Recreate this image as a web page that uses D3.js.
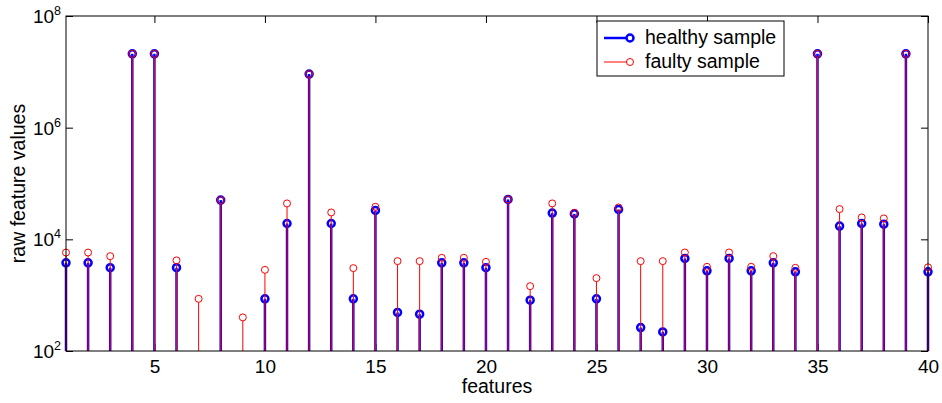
<!DOCTYPE html>
<html lang="en">
<head>
<meta charset="UTF-8"/>
<title>Raw feature values</title>
<script src="https://d3js.org/d3.v7.min.js"></script>
<style>
	body { margin: 0; background: #fff; }
	text { font-family: "Liberation Sans", Arial, sans-serif; fill: #000; }
</style>
</head>
<body>
<script>
	//chart size and plot box
	var w = 942;
	var h = 403;
	var boxL = 66, boxR = 928, boxT = 16, boxB = 351;

	//feature numbers
	var features = d3.range(1, 41);

	//healthy sample values (null = not shown on the log axis)
	var healthy = [3800, 3800, 3100, 2.1e7, 2.1e7, 3100, null, 50500, null, 860,
		19200, 9.1e6, 19200, 860, 32900, 490, 457, 3800, 3800, 3100,
		51900, 813, 29500, 28600, 860, 34300, 263, 220, 4540, 2730,
		4540, 2730, 3800, 2620, 2.1e7, 17300, 19200, 18700, 2.1e7, 2620];

	//faulty sample values
	var faulty = [5800, 5800, 5000, 2.1e7, 2.1e7, 4200, 860, 50500, 400, 2840,
		44000, 9.1e6, 30300, 3050, 38300, 4070, 4070, 4670, 4670, 3950,
		51900, 1450, 44000, 29800, 2020, 37200, 4070, 4070, 5820, 3220,
		5820, 3220, 5000, 3090, 2.1e7, 34800, 24700, 23700, 2.1e7, 3160];

	var xTicks = [5, 10, 15, 20, 25, 30, 35, 40];
	var yTicks = [1e2, 1e4, 1e6, 1e8];

	var xScale = d3.scaleLinear()
		.domain([1, 40])
		.range([boxL, boxR]);

	var yScale = d3.scaleLog()
		.domain([1e2, 1e8])
		.range([boxB, boxT]);

	var svg = d3.select("body")
		.append("svg")
		.attr("width", w)
		.attr("height", h);

	//axes (ticks point inside the box)
	var xBottom = svg.append("g")
		.attr("transform", "translate(0," + boxB + ")")
		.call(d3.axisBottom(xScale).tickValues(xTicks).tickSize(-7).tickSizeOuter(0));
	xBottom.selectAll("text")
		.attr("y", 22)
		.attr("dy", null)
		.style("font-size", "19px")
		.style("font-family", "'Liberation Sans', Arial, sans-serif");

	svg.append("g")
		.attr("transform", "translate(0," + boxT + ")")
		.call(d3.axisTop(xScale).tickValues(xTicks).tickSize(-7).tickSizeOuter(0).tickFormat(""));

	svg.append("g")
		.attr("transform", "translate(" + boxL + ",0)")
		.call(d3.axisLeft(yScale).tickValues(yTicks).tickSize(-7).tickSizeOuter(0).tickFormat(""));

	svg.append("g")
		.attr("transform", "translate(" + boxR + ",0)")
		.call(d3.axisRight(yScale).tickValues(yTicks).tickSize(-7).tickSizeOuter(0).tickFormat(""));

	svg.selectAll(".domain").remove();
	svg.selectAll(".tick line").attr("stroke", "#000");

	//y tick labels as 10 with superscript exponent
	var yLab = svg.selectAll(".ylab")
		.data(yTicks)
		.enter()
		.append("text")
		.attr("class", "ylab")
		.attr("text-anchor", "end")
		.attr("x", boxL - 5)
		.attr("y", function(d) { return yScale(d) + 7; })
		.style("font-size", "19px");
	yLab.append("tspan").text("10");
	yLab.append("tspan")
		.attr("dy", -8)
		.style("font-size", "12.5px")
		.text(function(d) { return Math.round(Math.log10(d)); });

	//healthy stems and markers
	var hData = features.map(function(f, i) { return [f, healthy[i]]; })
		.filter(function(d) { return d[1] != null; });
	var fData = features.map(function(f, i) { return [f, faulty[i]]; })
		.filter(function(d) { return d[1] != null; });

	svg.selectAll(".hstem")
		.data(hData)
		.enter()
		.append("line")
		.attr("x1", function(d) { return xScale(d[0]); })
		.attr("x2", function(d) { return xScale(d[0]); })
		.attr("y1", boxB)
		.attr("y2", function(d) { return yScale(d[1]); })
		.attr("stroke", "#0000ff")
		.attr("stroke-width", 2.5);

	svg.selectAll(".hdot")
		.data(hData)
		.enter()
		.append("circle")
		.attr("cx", function(d) { return xScale(d[0]); })
		.attr("cy", function(d) { return yScale(d[1]); })
		.attr("r", 3.5)
		.attr("fill", "none")
		.attr("stroke", "#0000ff")
		.attr("stroke-width", 2.5);

	svg.selectAll(".fstem")
		.data(fData)
		.enter()
		.append("line")
		.attr("x1", function(d) { return xScale(d[0]); })
		.attr("x2", function(d) { return xScale(d[0]); })
		.attr("y1", boxB)
		.attr("y2", function(d) { return yScale(d[1]) + 3.5; })
		.attr("stroke", "#ff0000")
		.attr("stroke-width", 1);

	svg.selectAll(".fdot")
		.data(fData)
		.enter()
		.append("circle")
		.attr("cx", function(d) { return xScale(d[0]); })
		.attr("cy", function(d) { return yScale(d[1]); })
		.attr("r", 3.5)
		.attr("fill", "none")
		.attr("stroke", "#ff0000")
		.attr("stroke-width", 1);

	//plot box
	svg.append("rect")
		.attr("x", boxL)
		.attr("y", boxT)
		.attr("width", boxR - boxL)
		.attr("height", boxB - boxT)
		.attr("fill", "none")
		.attr("stroke", "#000")
		.attr("stroke-width", 1);

	//axis labels
	svg.append("text")
		.attr("text-anchor", "middle")
		.attr("x", (boxL + boxR) / 2)
		.attr("y", 393)
		.style("font-size", "19.5px")
		.text("features");

	svg.append("text")
		.attr("text-anchor", "middle")
		.attr("transform", "translate(25," + ((boxT + boxB) / 2) + ") rotate(-90)")
		.style("font-size", "19.5px")
		.text("raw feature values");

	//legend
	var legend = svg.append("g");
	legend.append("rect")
		.attr("x", 597)
		.attr("y", 21)
		.attr("width", 187)
		.attr("height", 55)
		.attr("fill", "#fff")
		.attr("stroke", "#000");

	var entries = [
		{name: "healthy sample", color: "#0000ff", width: 2.5, y: 38},
		{name: "faulty sample", color: "#ff0000", width: 1, y: 62}
	];
	entries.forEach(function(e) {
		legend.append("line")
			.attr("x1", 604).attr("x2", 627)
			.attr("y1", e.y).attr("y2", e.y)
			.attr("stroke", e.color)
			.attr("stroke-width", e.width);
		legend.append("circle")
			.attr("cx", 630).attr("cy", e.y).attr("r", 3.5)
			.attr("fill", "none")
			.attr("stroke", e.color)
			.attr("stroke-width", e.width);
		legend.append("text")
			.attr("x", 645)
			.attr("y", e.y + 6)
			.style("font-size", "19.5px")
			.text(e.name);
	});
</script>
</body>
</html>
